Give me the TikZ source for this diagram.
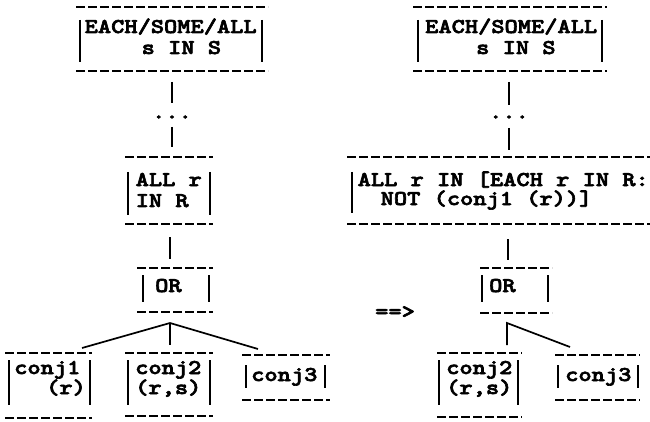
\documentclass[tikz,border=0pt]{standalone}
\usepackage{fontspec}
\setmonofont{Liberation Mono}
\IfFontExistsTF{lmmonolt10-bold.otf}
  {\newfontfamily\typew{lmmonolt10-bold.otf}[FakeStretch=1.2,FakeBold=3]\newcommand\diagfont{\typew\fontsize{21}{21}\selectfont}}
  {\newcommand\diagfont{\ttfamily\bfseries\fontsize{21.3}{21.3}\selectfont}}
\usetikzlibrary{calc}
\tikzset{
  frame/.style={rectangle, draw=none, inner sep=0pt, outer sep=0pt},
  dline/.style={line width=1.9pt, dash pattern=on 8.5pt off 3.5pt},
  bar/.style={line width=1.8pt},
  conn/.style={line width=1.7pt},
  txt/.style={font=\diagfont, inner sep=0pt, anchor=base west},
  dotsty/.style={font=\diagfont, inner sep=0pt},
}
% name, x1, x2, ytop, ybot, left bar x, right bar x (0 = none), bar top y, bar bottom y
\newcommand\oframe[9]{%
  \node[frame, minimum width={#3-#2}, minimum height={#5-#4}] (#1) at ({(#2+#3)/2},{(#4+#5)/2}) {};
  \draw[dline] (#1.north west) -- (#1.north east);
  \draw[dline] (#1.south west) -- (#1.south east);
  \draw[bar] ([xshift={#6-#2},yshift={#4-#8}]#1.north west) -- ([xshift={#6-#2},yshift={#4-#9}]#1.north west);
  \ifnum#7>0 \draw[bar] ([xshift={#7-#2},yshift={#4-#8}]#1.north west) -- ([xshift={#7-#2},yshift={#4-#9}]#1.north west);\fi
}
\begin{document}
\begin{tikzpicture}[x=1pt,y=-1pt]
\useasboundingbox (0,0) rectangle (650,422);
% ---------- left tree ----------
\oframe{f1L}{76}{268}{7}{71}{80}{262}{20}{62}
\node[txt] (t1La) at (84.5,33) {EACH/SOME/ALL};
\node[txt] (t1Lb) at (141.5,54) {s IN S};
\node[dotsty] (dL) at (172,117) {...};
\oframe{f2L}{125}{213}{157}{224}{128}{210}{172}{215}
\node[txt] (t2La) at (135.5,186) {ALL r};
\node[txt] (t2Lb) at (135.5,207) {IN R};
\oframe{f3L}{137}{213}{268}{312}{143}{209}{275}{302}
\node[txt] (orL) at (155,292) {OR};
\oframe{c1}{5}{92}{353}{418}{9}{90}{360}{405}
\node[txt] (c1a) at (14,374) {conj1};
\node[txt] (c1b) at (46,394) {(r)};
\oframe{c2L}{125}{213}{353}{416}{128}{210}{360}{405}
\node[txt] (c2La) at (135,374) {conj2};
\node[txt] (c2Lb) at (135,394) {(r,s)};
\oframe{c3L}{242}{330}{355}{400}{246}{325}{365}{388}
\node[txt] (c3La) at (251,381) {conj3};
% connectors left
\draw[conn] ($(f1L.south)+(0,-11pt)$) -- ($(dL.center)+(0,14pt)$);
\draw[conn] ($(dL.center)+(0,-10pt)$) -- ($(dL.center |- f2L.north)+(0,10pt)$);
\draw[conn] ($(f2L.south)+(1pt,-13pt)$) -- ($(f2L.south |- f3L.north)+(1pt,9pt)$);
\coordinate (apL) at ($(f3L.south)+(-5pt,-11pt)$);
\draw[conn] ($(c1.north east)+(-10pt,5pt)$) -- (apL) -- ($(c3L.north west)+(16pt,6pt)$);
\draw[conn] (apL) -- ($(apL |- c2L.north)+(0,8pt)$);
% ---------- arrow ----------
\node[txt] (impl) at (375,318) {==>};
% ---------- right tree ----------
\oframe{f1R}{413}{607}{7}{71}{418}{602}{20}{62}
\node[txt] (t1Ra) at (425,33) {EACH/SOME/ALL};
\node[txt] (t1Rb) at (476,54) {s IN S};
\node[dotsty] (dR) at (509,117) {...};
\oframe{f2R}{347}{650}{157}{224}{352}{0}{172}{213}
\node[txt] (t2Ra) at (357.5,186) {ALL r IN [EACH r IN R:};
\node[txt] (t2Rb) at (380.5,205) {NOT (conj1 (r))]};
\oframe{f3R}{480}{552}{268}{313}{482}{548}{275}{302}
\node[txt] (orR) at (489,292) {OR};
\oframe{c2R}{437}{522}{353}{417}{439}{518}{360}{405}
\node[txt] (c2Ra) at (446,374) {conj2};
\node[txt] (c2Rb) at (446,394) {(r,s)};
\oframe{c3R}{555}{640}{355}{400}{558}{638}{365}{388}
\node[txt] (c3Ra) at (565,381) {conj3};
% connectors right
\draw[conn] ($(f1R.south)+(-1pt,-11pt)$) -- ($(dR.center)+(0,12pt)$);
\draw[conn] ($(dR.center)+(0,-11pt)$) -- ($(dR.center |- f2R.north)+(0,7pt)$);
\draw[conn] ($(dR.center |- f2R.south)+(-1pt,-15pt)$) -- ($(dR.center |- f3R.north)+(-1pt,8pt)$);
\coordinate (apR) at ($(dR.center |- f3R.south)+(-2pt,-10pt)$);
\draw[conn] ($(apR |- c2R.north)+(0,8pt)$) -- (apR) -- ($(c3R.north west)+(15pt,8pt)$);
\end{tikzpicture}
\end{document}
